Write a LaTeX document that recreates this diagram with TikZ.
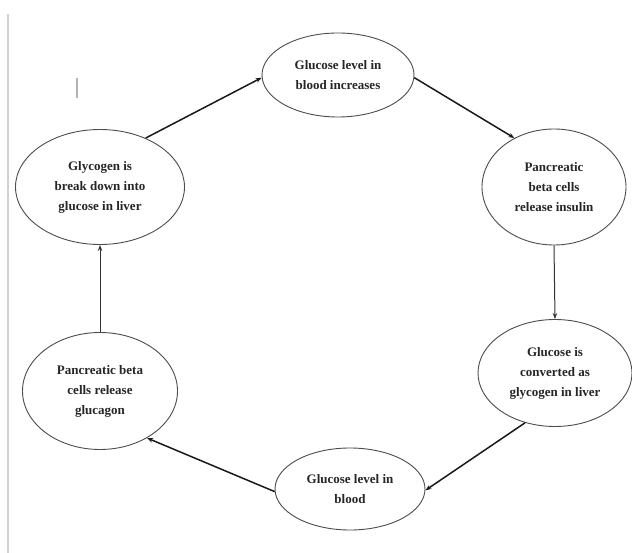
\documentclass[tikz,border=0pt]{standalone}
\usepackage{fontspec}
\setmainfont{Liberation Serif}
\usetikzlibrary{shapes.geometric,arrows.meta}
\begin{document}
\begin{tikzpicture}[x=1pt,y=-1pt,
  cyc/.style={ellipse,draw=black!70,line width=0.9pt,inner sep=0pt,
    align=center,font=\fontsize{13}{20}\selectfont\bfseries,text=black!85},
  flow/.style={draw=black!90,line width=1.5pt,-{Stealth[length=6pt,width=4.5pt]}},
  vflow/.style={flow,line width=1pt,draw=black!80}]
\path[use as bounding box] (0,0) rectangle (632,553);
\fill[white] (0,0) rectangle (632,553);
\draw[black!18,line width=2pt] (8,14) -- (8,553);
\draw[black!30,line width=1.5pt] (77,78) -- (77,98);
\node[cyc,minimum width=152pt,minimum height=84pt] (A) at (338,75) {Glucose level in\\blood increases};
\node[cyc,minimum width=144pt,minimum height=116pt] (B) at (554,187) {Pancreatic\\beta cells\\release insulin};
\node[cyc,minimum width=154pt,minimum height=107pt] (C) at (555,373) {Glucose is\\converted as\\glycogen in liver};
\node[cyc,minimum width=150pt,minimum height=82pt] (D) at (350,489) {Glucose level in\\blood};
\node[cyc,minimum width=155pt,minimum height=117pt] (E) at (100,391) {Pancreatic beta\\cells release\\glucagon};
\node[cyc,minimum width=169pt,minimum height=115pt] (F) at (100,187) {Glycogen is\\break down into\\glucose in liver};
\draw[flow] (F.47) -- (A.182);
\draw[flow] (A.-2) -- (B.129);
\draw[vflow] (B.south) -- (C.north);
\draw[flow] (C.239) -- (D.-1);
\draw[flow] (D.182) -- (E.-45);
\draw[vflow] (E.north) -- (F.south);
\end{tikzpicture}
\end{document}
